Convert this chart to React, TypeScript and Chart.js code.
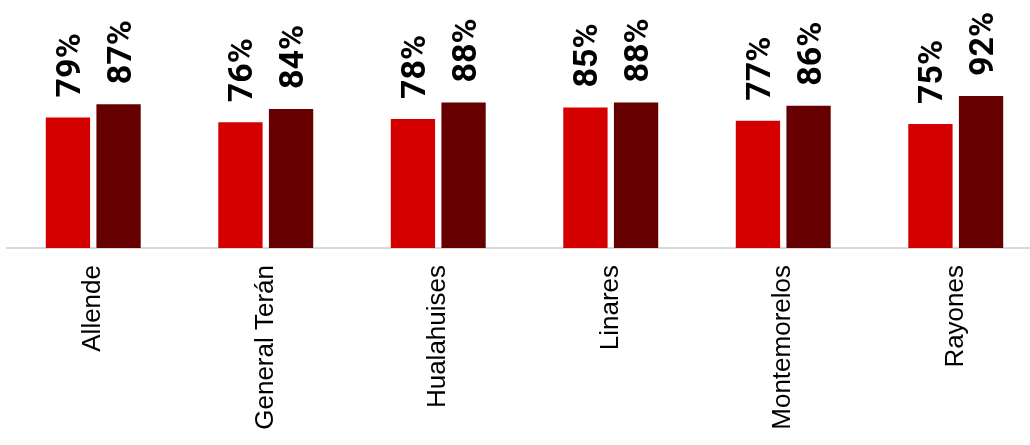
import React, { useEffect, useRef } from "react";
import { Chart, registerables } from "chart.js";

Chart.register(...registerables);

const categories = ["Allende", "General Terán", "Hualahuises", "Linares", "Montemorelos", "Rayones"];
const seriesA = [79, 76, 78, 85, 77, 75];
const seriesB = [87, 84, 88, 88, 86, 92];
const colorA = "#d40000";
const colorB = "#660000";
const yMax = 150;

const rotatedLabels = {
  id: "rotatedLabels",
  afterDatasetsDraw(chart: any) {
    const ctx = chart.ctx;
    ctx.save();
    ctx.font = "bold 34px Roboto";
    ctx.fillStyle = "#000";
    ctx.textAlign = "left";
    ctx.textBaseline = "alphabetic";
    chart.data.datasets.forEach((ds: any, di: number) => {
      const meta = chart.getDatasetMeta(di);
      meta.data.forEach((bar: any, i: number) => {
        const v = ds.data[i];
        ctx.save();
        ctx.translate(bar.x + 12, bar.y - 20);
        ctx.rotate(-Math.PI / 2);
        ctx.fillText(`${v}%`, 0, 0);
        ctx.restore();
      });
    });
    ctx.restore();
  },
};

export default function App() {
  const ref = useRef<HTMLCanvasElement | null>(null);
  useEffect(() => {
    if (!ref.current) return;
    const chart = new Chart(ref.current, {
      type: "bar",
      data: {
        labels: categories,
        datasets: [
          { data: seriesA, backgroundColor: colorA, categoryPercentage: 0.587, barPercentage: 0.875 },
          { data: seriesB, backgroundColor: colorB, categoryPercentage: 0.587, barPercentage: 0.875 },
        ],
      },
      options: {
        responsive: false,
        animation: false,
        layout: { padding: { left: 7, right: 0, top: 0, bottom: 0 } },
        plugins: { legend: { display: false }, tooltip: { enabled: false } },
        scales: {
          x: {
            grid: { display: false, drawTicks: false },
            border: { display: true, color: "#d9d9d9", width: 2 },
            ticks: {
              minRotation: 90,
              maxRotation: 90,
              autoSkip: false,
              padding: 17,
              color: "#000",
              font: { family: '"Liberation Sans", Arial, sans-serif', size: 26 },
            },
            afterFit: (s: any) => {
              s.height = 197;
            },
          } as any,
          y: { display: false, min: 0, max: yMax },
        },
      },
      plugins: [rotatedLabels],
    });
    return () => chart.destroy();
  }, []);
  return (
    <div style={{ position: "fixed", left: 0, top: 0, width: 1030, height: 445, overflow: "hidden", background: "#fff" }}>
      <canvas ref={ref} width={1042} height={445} style={{ width: 1042, height: 445, display: "block" }} />
    </div>
  );
}
